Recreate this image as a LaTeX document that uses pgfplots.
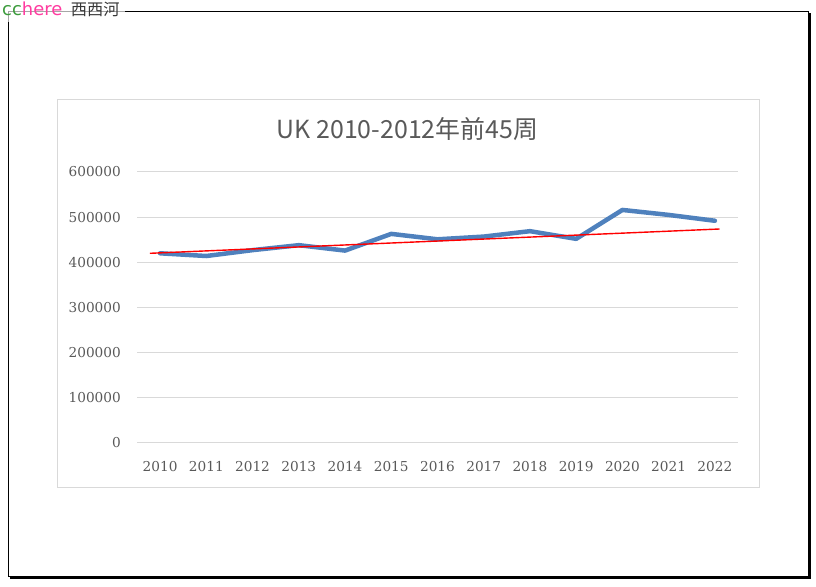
\documentclass[border=0pt]{standalone}
\usepackage{fontspec}
\setmainfont{DejaVu Serif}
\newfontfamily\cjk{Noto Sans CJK SC}
\newfontfamily\labelfont{DejaVu Sans}
\usepackage{pgfplots}
\pgfplotsset{compat=1.18}
\definecolor{ukblue}{RGB}{79,129,189}
\definecolor{txtgrey}{RGB}{89,89,89}
\definecolor{gridgrey}{RGB}{217,217,217}
\definecolor{ccgreen}{RGB}{60,155,60}
\definecolor{herepink}{RGB}{255,60,160}
\definecolor{darkgrey}{RGB}{55,55,55}
\begin{document}
\begin{tikzpicture}
\begin{scope}[x=1bp,y=1bp]
% outer frame with shadow
\fill[black] (10,8) rectangle (810.5,11);
\fill[black] (807.8,8) rectangle (810.5,574);
\draw[black, line width=1bp] (8.5,565) -- (8.5,10.5) -- (808.5,10.5) -- (808.5,575.5) -- (125,575.5);
\draw[gray!70, line width=1bp] (125,575.5) -- (8.5,575.5) -- (8.5,565);
% chart box
\draw[gridgrey, line width=1bp] (57,99) rectangle (759,487);
\end{scope}
\begin{axis}[
  at={(137bp,144bp)}, anchor=south west, scale only axis,
  width=601bp, height=271bp,
  xmin=2009.5, xmax=2022.5, ymin=0, ymax=600000,
  xtick={2010,...,2022}, ytick={0,100000,...,600000},
  scaled y ticks=false,
  /pgf/number format/fixed,
  /pgf/number format/precision=0,
  /pgf/number format/1000 sep={},
  /pgf/number format/assume math mode=true,
  axis line style={draw=none}, tick style={draw=none},
  ymajorgrids, major grid style={gridgrey, line width=1bp},
  tick label style={font=\fontsize{13.7}{16}\selectfont, text=txtgrey},
  yticklabel style={anchor=east, inner sep=0pt, xshift=-16bp},
  xticklabel style={anchor=north, inner sep=0pt, yshift=-18bp},
  clip=false,
]
\addplot[ukblue, line width=4.5bp, line join=round, line cap=round] coordinates {
  (2010,420000) (2011,414000) (2012,427000) (2013,438000) (2014,426000)
  (2015,463000) (2016,451000) (2017,457000) (2018,469000) (2019,452000)
  (2020,516000) (2021,505000) (2022,492000)};
\addplot[red, line width=1.4bp] coordinates {(2009.78,420000) (2022.1,473800)};
\end{axis}
\begin{scope}[x=1bp,y=1bp]
\node[anchor=base, text=txtgrey, font=\cjk\fontsize{25}{29}\selectfont, inner sep=0] at (407.5,448) {UK 2010-2012年前45周};
\node[anchor=base west, inner sep=0] at (2,571)
  {\fontsize{18}{20}\selectfont\labelfont\textcolor{ccgreen}{cc}\textcolor{herepink}{here}\hspace{8.5bp}\fontsize{16.3}{18}\selectfont\cjk\textcolor{darkgrey}{西西河}};
\end{scope}
\pgfresetboundingbox
\path (0,0) rectangle (816bp,587bp);
\end{tikzpicture}
\end{document}
